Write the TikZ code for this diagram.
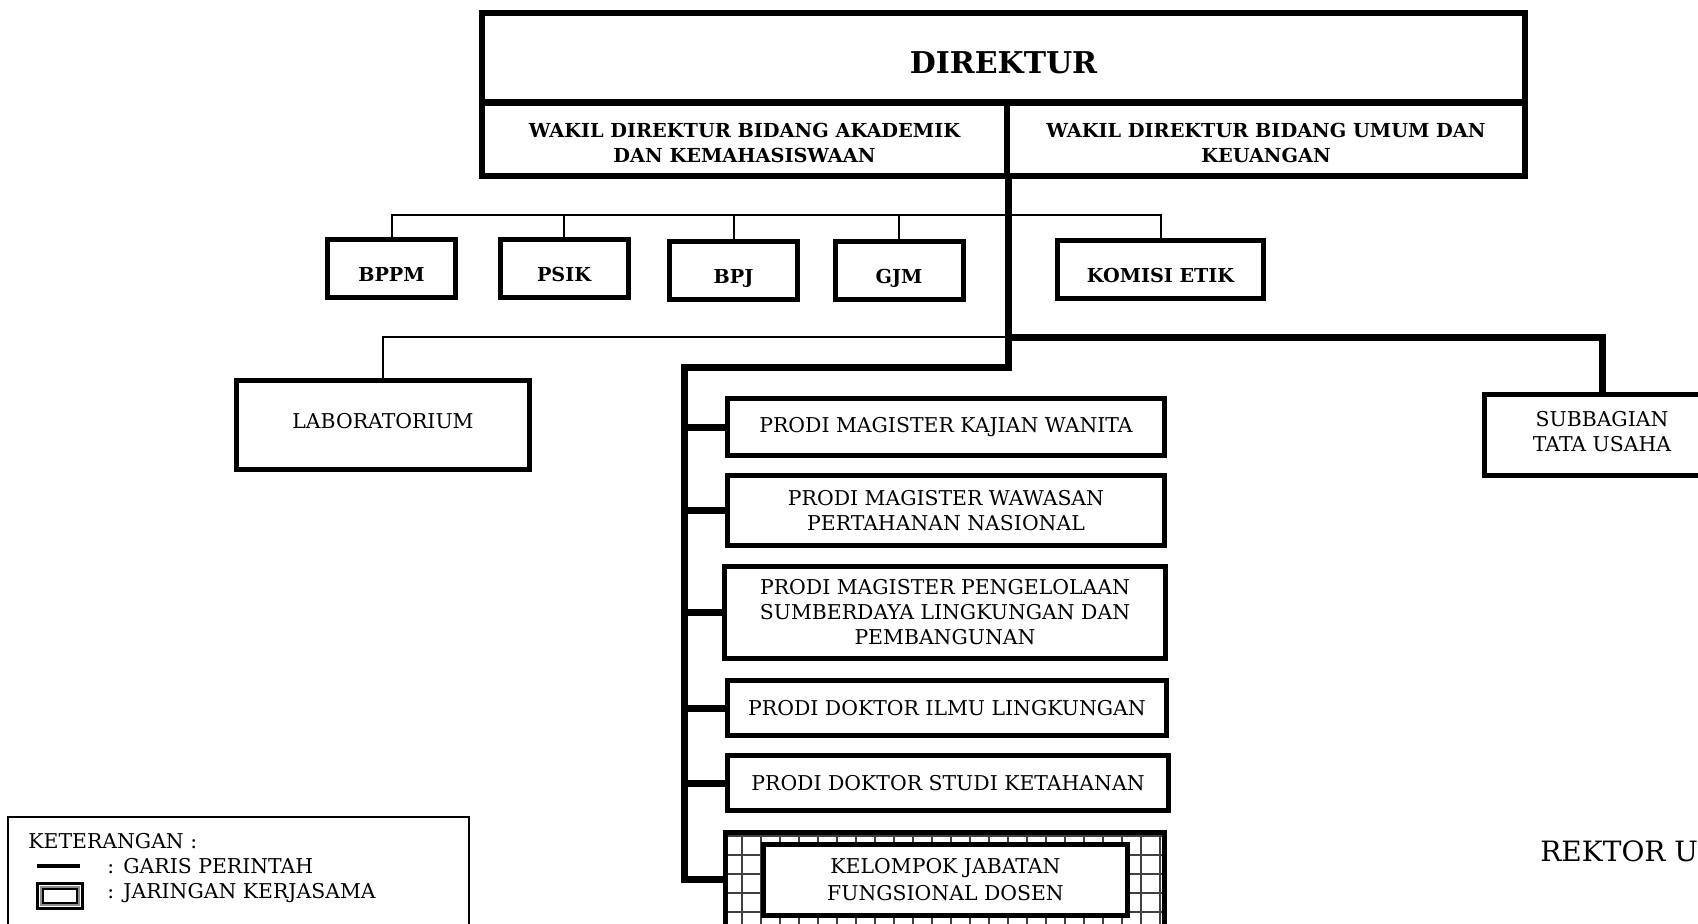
\documentclass[tikz,border=0pt]{standalone}
\usepackage{fontspec}
\setmainfont{DejaVu Serif}
\newcommand\fz[2]{\fontsize{#1pt}{#2pt}\selectfont}
\begin{document}
\begin{tikzpicture}[x=0.5pt,y=-0.5pt,
  unit/.style={draw,line width=2.5pt,inner sep=0pt,align=center,font=\fz{10.2}{12.5}},
  bunit/.style={unit,font=\bfseries\fz{9.6}{12},text height=13pt,text depth=0pt},
  head/.style={draw,line width=3pt,inner sep=0pt,align=center},
  caption/.style={inner sep=0pt,align=center},
  cmd/.style={line width=1pt},
  main/.style={line width=3.5pt,line join=miter},
  legtext/.style={anchor=base west,inner sep=0pt,font=\fz{10.2}{12}}
]
\useasboundingbox (0,0) rectangle (1698,923);

% header block
\node[head,minimum width=521.5pt,minimum height=44.5pt] (dir) at (1003.5,57.5) {};
\node[head,minimum width=262.5pt,minimum height=36.5pt] (wakA) at (744.5,139.5) {};
\node[head,minimum width=259pt,minimum height=36.5pt] (wakU) at (1266,139.5) {};
\node[caption,font=\bfseries\fz{15}{18}] (dirtext) at ([yshift=-2.7pt]dir.center) {DIREKTUR};
\node[caption,font=\bfseries\fz{9.65}{12.5}] (wakAtext) at ([yshift=-1.6pt]wakA.center) {WAKIL DIREKTUR BIDANG AKADEMIK\\DAN KEMAHASISWAAN};
\node[caption,font=\bfseries\fz{9.65}{12.5}] (wakUtext) at ([yshift=-1.6pt]wakU.center) {WAKIL DIREKTUR BIDANG UMUM DAN\\KEUANGAN};

% staff units
\node[bunit,minimum width=64pt,minimum height=29pt] (bppm) at (391.5,268.5) {BPPM};
\node[bunit,minimum width=64pt,minimum height=29pt] (psik) at (564,268.5) {PSIK};
\node[bunit,minimum width=64pt,minimum height=29pt] (bpj) at (733.5,270) {BPJ};
\node[bunit,minimum width=64pt,minimum height=29pt] (gjm) at (899,270) {GJM};
\node[bunit,minimum width=103pt,minimum height=29pt] (kom) at (1160.5,269) {KOMISI ETIK};

% laboratory and administration
\node[unit,minimum width=146.5pt,minimum height=44.5pt] (lab) at (383,425) {};
\node[caption,font=\fz{10.2}{12.5}] (labtext) at ([yshift=2.2pt]lab.center) {LABORATORIUM};
\node[unit,minimum width=117.5pt,minimum height=40.5pt] (sub) at (1602,435) {};
\node[caption,font=\fz{10.2}{12.5}] (subtext) at ([yshift=1.6pt]sub.center) {SUBBAGIAN\\TATA USAHA};

% study programmes
\node[unit,minimum width=218.5pt,minimum height=28.5pt] (p1) at (946,427) {PRODI MAGISTER KAJIAN WANITA};
\node[unit,minimum width=218.5pt,minimum height=35pt] (p2) at (946,510.5) {PRODI MAGISTER WAWASAN\\PERTAHANAN NASIONAL};
\node[unit,minimum width=220.5pt,minimum height=46pt] (p3) at (945,612.5) {PRODI MAGISTER PENGELOLAAN\\SUMBERDAYA LINGKUNGAN DAN\\PEMBANGUNAN};
\node[unit,minimum width=219.5pt,minimum height=27.5pt] (p4) at (947,708) {PRODI DOKTOR ILMU LINGKUNGAN};
\node[unit,minimum width=220.5pt,minimum height=27.5pt] (p5) at (948,783) {PRODI DOKTOR STUDI KETAHANAN};

% lecturer group inside a network frame
\begin{scope}
  \clip (725.5,832.5) rectangle (1164.5,926.5);
  \foreach \x in {742,761,...,1170} \draw[black!75,line width=0.8pt] (\x,828) -- (\x,930);
  \foreach \y in {836,855,...,930} \draw[black!75,line width=0.8pt] (720,\y) -- (1170,\y);
\end{scope}
\node[draw,line width=2.5pt,inner sep=0pt,minimum width=219.5pt,minimum height=47pt] (kjfframe) at (945,879.5) {};
\node[unit,fill=white,font=\fz{10.2}{13.5},minimum width=182pt,minimum height=35.5pt] (kjf) at (945.5,879.5) {KELOMPOK JABATAN\\FUNGSIONAL DOSEN};

% line of command
\coordinate (root) at (1008,176);
\coordinate (bus) at (1008,215);
\coordinate (split) at (1008,337);
\coordinate (turn) at (1008,367);
\coordinate (rail) at (684,367);

\draw[cmd] (bppm.north) |- (bus) -| (kom.north);
\foreach \n in {psik,bpj,gjm} \draw[cmd] (\n.north) -- (\n.north |- bus);
\draw[cmd] (lab.north) |- (split);

\draw[main] (root) -- (turn) -- (rail) -- ([yshift=-1.75pt]rail |- kjfframe.west);
\draw[main] (split) -| (sub.north);
\foreach \n in {p1,p2,p3,p4,p5,kjfframe} \draw[main] (\n.west -| rail) -- (\n.west);

% legend
\draw[line width=1pt] (8,817) rectangle (469,960);
\node[legtext] (ket) at (28,848) {KETERANGAN :};
\coordinate (la) at (37,866);
\coordinate (lb) at (80,866);
\draw[line width=2pt] (la) -- (lb);
\node[legtext] (c1) at (107,873) {:};
\node[legtext] (t1) at (123,873) {GARIS PERINTAH};
\draw[line width=1.5pt] (37.5,883.5) rectangle (82.5,908.5);
\draw[black!45,line width=1pt] (41,887) rectangle (79,905);
\draw[line width=0.6pt] (43,889) rectangle (77,903);
\node[legtext] (c2) at (107,898) {:};
\node[legtext] (t2) at (123,898) {JARINGAN KERJASAMA};

\node[anchor=base west,inner sep=0pt,font=\fz{14}{16}] (rek) at (1540,861) {REKTOR U};
\end{tikzpicture}
\end{document}
